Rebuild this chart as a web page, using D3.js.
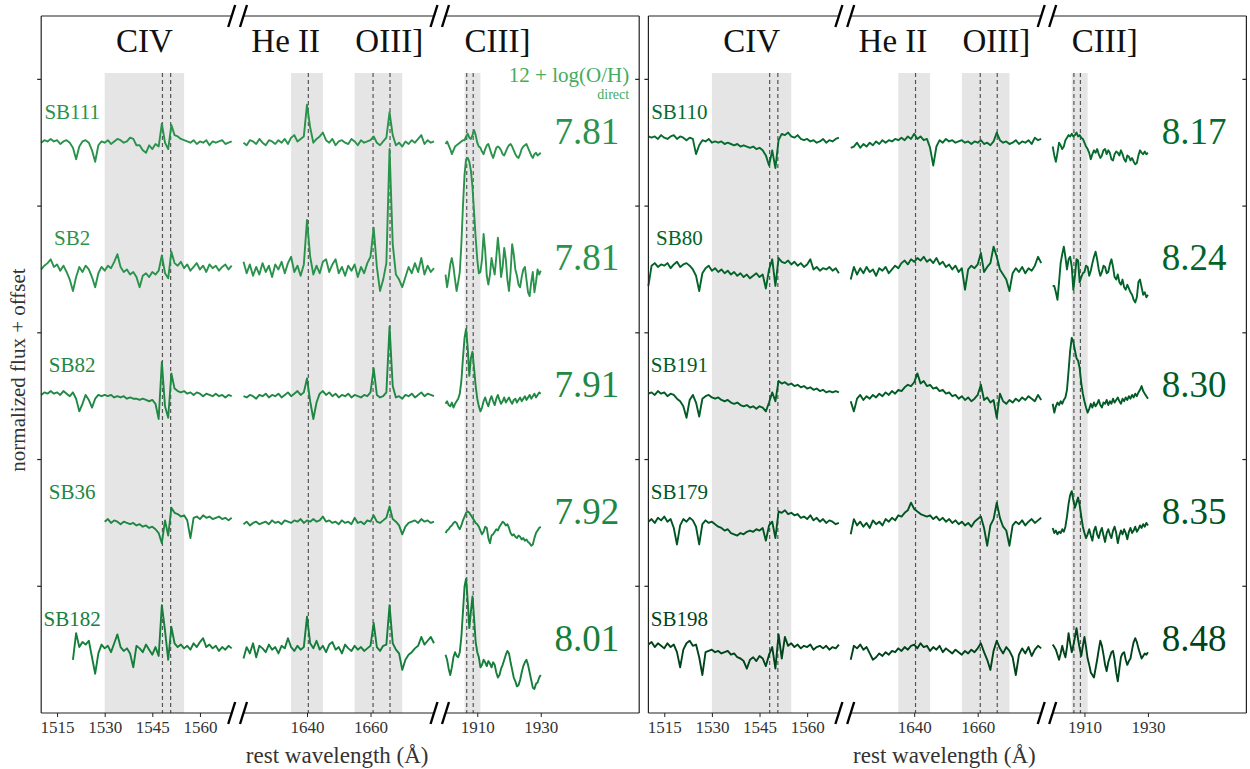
<!DOCTYPE html>
<html><head><meta charset="utf-8">
<script src="https://cdn.jsdelivr.net/npm/d3@7"></script>
<style>body{margin:0;background:#fff}svg{display:block}</style>
</head><body><svg id="c" width="1250" height="769"></svg>
<script>
// ---------------- DATA ----------------
// wavelength segments of the broken axis (Å) and sampling step
const segDomains = [[1510, 1570], [1620, 1680], [1900, 1961]];
const segSteps = [1, 1, 0.5];
const xTickValues = [[1515, 1530, 1545, 1560], [1640, 1660], [1910, 1930]];
const lineNames = ["CIV", "He II", "OIII]", "CIII]"];
const lineNamePos = [[0, 1542.5], [1, 1633.3], [1, 1665.9], [2, 1916.4]];
const bandSeg = [0, 1, 1, 2];
const bandRanges = [[1530, 1555], [1635, 1645], [1655, 1670], [1906, 1911]];
const restSeg = [0, 0, 1, 1, 1, 2, 2];
const restLines = [1548.19, 1550.77, 1640.42, 1660.81, 1666.15, 1906.68, 1908.73];
const yTickValues = [1, 2, 3, 4, 5];
const rowOffsets = [3.5, 2.5, 1.5, 0.5, -0.5];

const leftNames = ["SB111", "SB2", "SB82", "SB36", "SB182"];
const leftOH = [7.81, 7.81, 7.91, 7.92, 8.01];
const leftStart = [1510, 1510, 1510, 1530, 1520];
const rightNames = ["SB110", "SB80", "SB191", "SB179", "SB198"];
const rightOH = [8.17, 8.24, 8.30, 8.35, 8.48];
const rightStart = [1510, 1510, 1510, 1510, 1510];

// spectra: normalized flux minus 1, in units of 0.01
const sb111_civ = [0,2,1,3,1,2,-1,1,2,0, -4,-13,-3,1,2,0,-6,-15,-2,1, 0,2,-1,1,3,2,0,1,4,3, -2,-2,-6,-8,-2,-5,-1,-3,15,0, -5,14,6,5,3,2,1,0,2,-1, 1,0,2,-2,1,0,1,2,-1,0,1];
const sb111_heo = [0,-2,2,1,-1,3,0,-2,2,1, -1,2,0,3,-1,4,6,1,3,5, 30,12,0,3,5,8,2,0,3,-2, 1,2,0,-1,3,1,-2,2,0,1, 2,5,0,-2,1,4,24,6,-2,0, -3,1,-1,2,0,3,6,-1,2,0,1];
const sb111_ciii = [-1,1,-2,-5,-9,-6,-3,-2,-1,0, 1,2,2,5,7,4,3,6,10,6, 0,-3,-4,-7,-9,-5,-2,-1,-5,-9, -12,-8,-4,-3,-4,-6,-9,-10,-7,-4, -2,-1,-3,-6,-9,-11,-12,-9,-5,-3, -2,-1,-4,-7,-10,-12,-9,-8,-10,-9, -8];

const sb2_civ = [0,3,5,8,2,4,-1,3,-2,-8, -17,-6,2,-2,3,0,-6,-14,-3,2, -1,3,1,6,12,2,-2,0,-4,-2, -6,-14,-5,-3,-6,-2,-4,-1,11,-3, -7,14,5,3,6,1,4,-1,2,5, 0,3,-2,4,1,3,-1,2,4,0,3];
const sb2_heo = [6,-3,4,-5,2,-4,5,-2,3,-6, 4,0,6,-3,5,10,-2,3,-5,4, 39,10,-4,3,-3,6,8,-2,4,8, -3,2,-5,3,-1,4,-6,2,-3,5, 10,33,2,-17,-8,5,95,20,-4,-8, -14,-6,2,-3,5,-2,9,-4,3,-2,1];
const sb2_ciii = [-4,-14,-6,4,9,2,-8,-17,-10,-2, 20,50,75,87,88,85,78,65,45,25, 8,-3,-2,8,28,15,-5,-12,-4,9, 2,-4,10,25,12,-6,2,17,8,-8, -17,-2,20,12,0,-5,-12,-14,-6,0, 2,-8,-18,-21,-10,-2,-18,-10,0,-4, -1];

const sb82_civ = [1,3,2,4,2,3,1,4,2,0, 3,-2,-12,-6,1,-3,-9,-2,1,0, 1,0,1,-1,0,-1,0,-2,-1,-2, -2,-3,-2,-3,-4,-3,-6,-18,27,-8, -17,18,6,4,3,4,2,3,1,3, 2,0,2,1,0,2,0,1,-1,1,0];
const sb82_heo = [0,-1,1,0,-2,1,0,2,-1,1, 0,2,-1,1,3,0,2,4,1,3, 14,-4,-18,-5,2,4,1,3,0,2, -1,1,0,2,-1,1,0,-1,1,0, 3,22,1,-1,0,3,55,8,-1,0, -2,1,0,2,-1,1,3,0,2,1,0];
const sb82_ciii = [-6,-4,-7,-8,-5,-9,-6,-4,-2,2, 12,30,46,53,38,16,30,35,22,8, -2,-8,-12,-9,-4,-1,-5,-8,-3,0, -4,-7,-2,1,-3,-6,-4,-1,-5,-3, -1,-4,-6,-3,-2,-5,-3,-1,-4,-2, 0,-3,-1,1,-2,0,2,-1,1,3, 2];

const sb36_civ = [1,3,0,2,1,-1,1,0,-1,0, -2,-1,-3,-2,-4,-3,-5,-8,-16,2, -10,12,8,7,5,6,2,-12,4,5, 3,6,4,5,3,4,5,3,4,2,4];
const sb36_heo = [-1,1,-2,0,1,-1,0,1,-1,2, 0,1,-1,2,1,0,2,1,3,0, 2,1,3,1,2,5,1,2,0,1, -1,2,0,1,-1,4,0,1,-1,2, 1,6,1,0,2,4,13,3,1,-2, -9,-3,0,1,2,0,3,1,2,0,1];
const sb36_ciii = [-8,-6,-5,-3,-2,0,1,0,-3,-5, -2,2,5,8,9,8,6,4,2,0, -1,-3,-6,-9,-7,-3,-4,-12,-16,-10, -9,-7,-5,-6,-3,-1,1,0,-2,-1, -4,-8,-10,-9,-11,-12,-10,-11,-13,-12, -14,-13,-15,-16,-18,-17,-12,-8,-6,-4, -3];

const sb182_civ = [-8,13,2,6,4,7,-6,-19,-3,4, 1,3,-2,5,12,2,-1,1,-3,-14, 3,1,-2,4,0,-4,2,-5,35,15, -8,18,5,2,4,1,3,0,5,2, 6,9,2,4,1,3,-1,2,0,3,1];
const sb182_heo = [-7,2,-3,5,-6,3,1,-2,4,0, 2,-3,3,1,9,2,-1,3,0,2, 26,5,1,7,0,3,-2,4,6,0, 2,-3,4,1,-1,3,0,2,-1,1, 3,21,2,-1,3,4,35,5,0,-3, -16,-8,-4,-2,1,3,10,4,7,10,5];
const sb182_ciii = [-4,-8,-15,-20,-14,-6,-2,-5,-6,-2, 10,30,50,56,38,17,30,42,25,6, -2,-6,-14,-12,-8,-10,-13,-9,-11,-14, -10,-12,-18,-22,-20,-15,-12,-8,-4,-1, -3,-10,-16,-22,-25,-29,-28,-24,-18,-13, -10,-8,-12,-18,-24,-30,-31,-27,-26,-22, -20];

const sb110_civ = [5,4,5,3,6,4,3,5,6,3, 5,4,2,4,3,-9,-2,2,1,3, 0,1,0,1,-1,0,-1,-2,-1,-3, -2,-3,-4,-3,-5,-4,-6,-10,-18,-6, -20,2,7,6,8,5,4,6,3,2, 3,1,2,0,1,3,0,2,1,3,4];
const sb110_heo = [-4,-3,0,-4,-1,-3,0,-2,1,-1, 2,0,2,1,3,2,4,2,5,3, 7,3,5,2,3,-4,-18,-3,2,0, 3,1,2,0,1,2,0,1,-1,1, 0,2,-1,0,-2,1,8,2,0,1, -1,0,2,-1,1,0,2,-1,4,2,3];
const sb110_ciii = [-3,-10,-15,-8,0,-2,-5,-3,2,4, 6,5,7,5,6,8,5,6,4,3, 0,-3,-5,-8,-13,-9,-6,-8,-5,-9, -12,-10,-6,-5,-9,-6,-8,-13,-14,-9, -7,-8,-10,-6,-9,-13,-15,-10,-11,-14, -12,-15,-17,-16,-10,-6,-8,-9,-7,-9, -8];

const sb80_civ = [-13,3,5,2,4,3,5,1,4,6, 2,4,5,3,0,-5,-17,-3,1,3, -1,1,-2,0,-3,-1,-4,-2,-5,-3, -6,-4,-7,-5,-3,-6,-4,-15,0,8, -13,9,6,5,7,4,6,3,5,2, 4,8,0,2,-1,1,0,2,-1,1,-3];
const sb80_heo = [-8,2,-4,1,-3,2,-2,0,-5,1, -1,2,-3,0,3,1,5,7,4,8, 6,9,7,10,6,8,5,9,4,6, 2,4,0,3,-2,1,-16,0,3,1, 4,13,-2,2,5,18,10,0,-4,-8, -17,-3,1,-2,2,-3,1,-1,3,10,5];
const sb80_ciii = [-13,-13,-18,-24,-10,5,12,18,10,0, 8,10,2,-16,-5,8,7,-10,-6,-3, -2,3,2,-5,-1,5,10,14,8,0, -5,-2,3,2,-3,-2,4,8,2,-6, -8,-4,-10,-12,-8,-14,-16,-12,-15,-18, -20,-24,-26,-22,-10,-8,-14,-20,-18,-22, -20];

const sb191_civ = [2,3,1,4,2,3,0,2,1,-2, -4,-8,-17,-3,1,-5,-16,-2,0,1, -1,-2,-1,-3,-4,-3,-5,-6,-5,-7, -8,-7,-9,-8,-10,-8,-9,-12,-5,3, -4,12,10,11,9,10,8,9,7,8, 6,7,5,6,4,5,3,4,3,4,3];
const sb191_heo = [-4,-12,-2,1,-3,0,-2,1,-1,2, 0,3,1,4,2,5,4,7,9,8, 11,18,10,12,8,9,6,7,4,5, 2,3,0,1,-2,0,-3,-1,-4,-2, 1,9,-3,-1,-5,-3,-17,2,-4,-6, -3,-5,-2,-4,-1,-3,0,-2,-4,1,-3];
const sb191_ciii = [-6,-13,-8,-5,-7,-4,-6,-3,-1,5, 20,36,46,43,36,30,28,22,10,2, -4,-9,-13,-10,-6,-9,-5,-8,-6,-3, -7,-9,-5,-6,-3,-7,-4,-6,-2,-5, -3,-1,-4,-6,-2,-4,-1,-3,0,-2, 1,-1,2,0,3,5,8,4,2,0, -2];

const sb179_civ = [1,3,0,4,2,5,1,3,-4,-17, -2,3,1,4,2,-3,-17,-1,2,0, 1,-1,-3,-4,-6,-5,-8,-9,-10,-8, -9,-7,-6,-7,-5,-6,-4,-14,-2,1, -12,9,8,10,7,8,6,7,4,5, 3,6,2,4,1,3,0,2,1,-1,0];
const sb179_heo = [-9,3,-2,1,-3,0,-4,2,-1,1, -2,3,1,4,2,6,5,8,10,16, 11,9,7,6,5,6,3,5,2,4, 1,3,0,2,-1,1,-2,0,-3,1, 3,5,-4,-18,-2,3,16,4,-3,-6, -18,-2,1,-1,2,-2,1,3,0,2,4];
const sb179_ciii = [-4,-8,-6,-9,-7,-8,-5,-7,-3,5, 15,22,25,18,12,16,20,14,5,-3, -8,-12,-9,-5,-10,-14,-6,-3,-9,-12, -7,-4,-10,-15,-8,-5,-9,-12,-6,-3, -8,-16,-10,-6,-9,-5,-8,-13,-7,-4, -8,-6,-3,-7,-5,-2,-4,-1,-3,0, -2];

const sb198_civ = [4,6,2,5,3,1,5,2,4,-2, -14,0,5,7,3,4,-6,-20,-2,-1, 0,-2,-1,-3,-2,-1,-4,-3,-6,-7, -9,-15,-8,-6,-9,-5,-7,-13,-4,2, -15,12,-7,10,3,5,2,4,1,3, 2,4,0,2,3,1,3,0,2,1,4];
const sb198_heo = [-8,3,1,4,0,2,-3,-8,-6,-3, -5,-2,-4,-1,-2,1,-1,2,0,3, 4,1,5,2,3,-1,2,0,3,-2, 1,-1,-3,0,-2,-4,-1,-3,0,-2, 1,5,-2,-8,-16,-1,7,1,-3,2, -1,-6,-20,-4,1,-3,2,-5,0,3,1];
const sb198_ciii = [4,2,0,-4,-8,-3,3,-2,-6,2, 13,5,-2,3,10,17,8,1,-5,3, 10,2,-7,-12,-18,-20,-22,-15,-8,0, 7,3,-4,-12,-17,-10,-6,-2,-1,-8, -18,-25,-15,-6,-3,-2,-8,-12,-9,-7, 0,6,9,6,1,-3,-7,-5,-3,-4, -2];

const leftSpectra = [[sb111_civ, sb111_heo, sb111_ciii], [sb2_civ, sb2_heo, sb2_ciii], [sb82_civ, sb82_heo, sb82_ciii], [sb36_civ, sb36_heo, sb36_ciii], [sb182_civ, sb182_heo, sb182_ciii]];
const rightSpectra = [[sb110_civ, sb110_heo, sb110_ciii], [sb80_civ, sb80_heo, sb80_ciii], [sb191_civ, sb191_heo, sb191_ciii], [sb179_civ, sb179_heo, sb179_ciii], [sb198_civ, sb198_heo, sb198_ciii]];

// ---------------- LAYOUT ----------------
const svg = d3.select("#c");
const FONT = "'Liberation Serif', 'DejaVu Serif', serif";
const TOP = 16, BOTTOM = 713;
const PXA = 3.175;             // pixels per Angstrom
const SEG_OFF = [0, 202.3, 404.3];
const y = d3.scaleLinear().domain([0, 5.5]).range([BOTTOM, TOP]);
const colorOf = z => d3.interpolateGreens(0.72 + (z - 7.81) / 0.67 * 0.28);

function drawPanel(x0, x1, names, oh, starts, spectra, opts) {
  const g = svg.append("g");
  const xs = segDomains.map((dom, i) => d3.scaleLinear().domain(dom)
      .range([x0 + SEG_OFF[i], x0 + SEG_OFF[i] + (dom[1] - dom[0]) * PXA]));

  // grey bands
  g.selectAll("rect.band").data(bandRanges).join("rect")
    .attr("x", (d, i) => xs[bandSeg[i]](d[0]))
    .attr("width", (d, i) => xs[bandSeg[i]](d[1]) - xs[bandSeg[i]](d[0]))
    .attr("y", y(5.05)).attr("height", y(0) - y(5.05))
    .attr("fill", "#e5e5e5");
  // dashed rest wavelengths
  g.selectAll("line.rest").data(restLines).join("line")
    .attr("x1", (d, i) => xs[restSeg[i]](d)).attr("x2", (d, i) => xs[restSeg[i]](d))
    .attr("y1", y(5.05)).attr("y2", y(0))
    .attr("stroke", "#555").attr("stroke-width", 1.2).attr("stroke-dasharray", "4,3");

  // spectra
  const line = d3.line().x(d => d[0]).y(d => d[1]);
  spectra.forEach((segs, r) => {
    const col = colorOf(oh[r]);
    segs.forEach((vals, s) => {
      const st = s === 0 ? starts[r] : segDomains[s][0];
      const pts = vals.map((v, i) => [xs[s](st + i * segSteps[s]), y(1 + v / 100 + rowOffsets[r])]);
      g.append("path").attr("d", line(pts)).attr("fill", "none")
        .attr("stroke", col).attr("stroke-width", 1.9).attr("stroke-linejoin", "round");
    });
    const base = y(1 + rowOffsets[r]);
    g.append("text").attr("x", x0 + 31).attr("y", base - 24).attr("text-anchor", "middle")
      .attr("font-family", FONT).attr("font-size", 21).attr("fill", col).text(names[r]);
    g.append("text").attr("x", x1 - 20).attr("y", base + 1).attr("text-anchor", "end")
      .attr("font-family", FONT).attr("font-size", 37).attr("fill", col).text(oh[r].toFixed(2));
  });

  // line names on top
  lineNames.forEach((t, i) => {
    g.append("text").attr("x", xs[lineNamePos[i][0]](lineNamePos[i][1])).attr("y", 52)
      .attr("text-anchor", "middle").attr("font-family", FONT).attr("font-size", 33)
      .attr("fill", "#111").text(t);
  });

  // frame (broken at gaps)
  const fr = g.append("g").attr("stroke", "#222").attr("stroke-width", 1.2).attr("fill", "none");
  fr.append("line").attr("x1", x0).attr("x2", x0).attr("y1", TOP).attr("y2", BOTTOM);
  fr.append("line").attr("x1", x1).attr("x2", x1).attr("y1", TOP).attr("y2", BOTTOM);
  const pieces = [[x0, xs[0].range()[1]], [xs[1].range()[0], xs[1].range()[1]], [xs[2].range()[0], x1]];
  [TOP, BOTTOM].forEach(yy => pieces.forEach(p =>
    fr.append("line").attr("x1", p[0]).attr("x2", p[1]).attr("y1", yy).attr("y2", yy)));
  // break marks
  const brk = [xs[0].range()[1], xs[1].range()[0], xs[1].range()[1], xs[2].range()[0]];
  [TOP, BOTTOM].forEach(yy => brk.forEach(bx =>
    g.append("line").attr("x1", bx - 3.5).attr("y1", yy + 11).attr("x2", bx + 3.5).attr("y2", yy - 11)
      .attr("stroke", "#000").attr("stroke-width", 2.4)));

  // y ticks (unlabelled)
  yTickValues.forEach(v => {
    fr.append("line").attr("x1", x0 - 4).attr("x2", x0).attr("y1", y(v)).attr("y2", y(v));
    fr.append("line").attr("x1", x1 - 4).attr("x2", x1).attr("y1", y(v)).attr("y2", y(v));
  });

  // x axis ticks via d3 axes
  xTickValues.forEach((tv, s) => {
    const ax = d3.axisBottom(xs[s]).tickValues(tv).tickSize(4).tickPadding(4).tickFormat(d3.format("d"));
    const ag = g.append("g").attr("transform", `translate(0,${BOTTOM})`).call(ax);
    ag.select(".domain").remove();
    ag.selectAll("line").attr("stroke", "#222");
    ag.selectAll("text").attr("font-family", FONT).attr("font-size", 17).attr("fill", "#333");
  });

  g.append("text").attr("x", x0 + 296).attr("y", 763).attr("text-anchor", "middle")
    .attr("font-family", FONT).attr("font-size", 23).attr("fill", "#333").text("rest wavelength (Å)");

  if (opts.ylabel) {
    g.append("text").attr("transform", `translate(25,370) rotate(-90)`).attr("text-anchor", "middle")
      .attr("font-family", FONT).attr("font-size", 21).attr("fill", "#333").text("normalized flux + offset");
  }
  if (opts.ohLabel) {
    const c = d3.interpolateGreens(0.62);
    g.append("text").attr("x", x1 - 10).attr("y", 82).attr("text-anchor", "end")
      .attr("font-family", FONT).attr("font-size", 21).attr("fill", c).text("12 + log(O/H)");
    g.append("text").attr("x", x1 - 10).attr("y", 99).attr("text-anchor", "end")
      .attr("font-family", FONT).attr("font-size", 14).attr("fill", c).text("direct");
  }
}

drawPanel(41.2, 639.2, leftNames, leftOH, leftStart, leftSpectra, {ylabel: true, ohLabel: true});
drawPanel(648.4, 1246.4, rightNames, rightOH, rightStart, rightSpectra, {ylabel: false, ohLabel: false});
</script></body></html>
